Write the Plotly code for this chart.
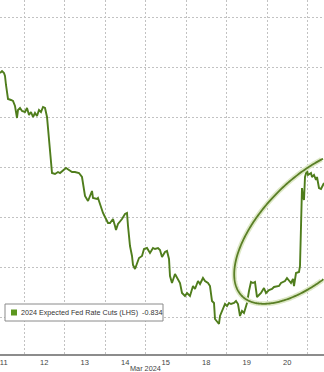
import numpy as np
import plotly.graph_objects as go

# ---- data ----
times = [
    "2024-03-11 09:47", "2024-03-11 10:58", "2024-03-11 12:09", "2024-03-11 12:44", "2024-03-11 13:20",
    "2024-03-11 13:56", "2024-03-11 14:31", "2024-03-11 16:18", "2024-03-11 17:29", "2024-03-11 18:40",
    "2024-03-11 19:51", "2024-03-11 20:27", "2024-03-11 21:38", "2024-03-11 22:49", "2024-03-12 00:36",
    "2024-03-12 01:47", "2024-03-12 02:58", "2024-03-12 04:09", "2024-03-12 05:20", "2024-03-12 06:31",
    "2024-03-12 07:42", "2024-03-12 08:53", "2024-03-12 10:04", "2024-03-12 11:16", "2024-03-12 12:27",
    "2024-03-12 13:38", "2024-03-12 14:49", "2024-03-12 16:00", "2024-03-12 16:36", "2024-03-12 18:22",
    "2024-03-12 20:09", "2024-03-12 21:20", "2024-03-12 22:31", "2024-03-13 00:53", "2024-03-13 02:40",
    "2024-03-13 04:27", "2024-03-13 06:13", "2024-03-13 08:36", "2024-03-13 10:22", "2024-03-13 10:58",
    "2024-03-13 12:09", "2024-03-13 13:56", "2024-03-13 16:18", "2024-03-13 16:53", "2024-03-13 19:16",
    "2024-03-13 19:51", "2024-03-13 21:02", "2024-03-13 22:49", "2024-03-14 00:36", "2024-03-14 01:47",
    "2024-03-14 02:58", "2024-03-14 04:44", "2024-03-14 05:56", "2024-03-14 06:31", "2024-03-14 07:42",
    "2024-03-14 10:04", "2024-03-14 11:51", "2024-03-14 13:02", "2024-03-14 13:38", "2024-03-14 14:49",
    "2024-03-14 16:00", "2024-03-14 16:36", "2024-03-14 17:47", "2024-03-14 18:58", "2024-03-14 20:09",
    "2024-03-14 21:56", "2024-03-14 23:07", "2024-03-15 00:53", "2024-03-15 02:40", "2024-03-15 04:27",
    "2024-03-15 05:38", "2024-03-15 07:24", "2024-03-15 08:36", "2024-03-15 09:47", "2024-03-15 11:33",
    "2024-03-15 12:44", "2024-03-15 13:56", "2024-03-15 14:31", "2024-03-15 15:42", "2024-03-15 17:29",
    "2024-03-15 19:16", "2024-03-15 20:27", "2024-03-15 21:38", "2024-03-15 23:24", "2024-03-18 00:36",
    "2024-03-18 02:22", "2024-03-18 04:09", "2024-03-18 05:20", "2024-03-18 07:07", "2024-03-18 08:18",
    "2024-03-18 10:04", "2024-03-18 11:16", "2024-03-18 13:02", "2024-03-18 14:13", "2024-03-18 15:24",
    "2024-03-18 16:36", "2024-03-18 17:11", "2024-03-18 18:22", "2024-03-18 19:33", "2024-03-18 20:09",
    "2024-03-18 21:20", "2024-03-18 22:31", "2024-03-18 23:07", "2024-03-19 00:18", "2024-03-19 01:29",
    "2024-03-19 02:40", "2024-03-19 04:27", "2024-03-19 05:38", "2024-03-19 06:49", "2024-03-19 08:00",
    "2024-03-19 09:11", "2024-03-19 10:22", "2024-03-19 12:09", "2024-03-19 13:20", "2024-03-19 14:31",
    "2024-03-19 15:42", "2024-03-19 16:53", "2024-03-19 18:04", "2024-03-19 20:27", "2024-03-19 22:13",
    "2024-03-19 23:24", "2024-03-20 01:11", "2024-03-20 02:58", "2024-03-20 04:09", "2024-03-20 07:07",
    "2024-03-20 08:18", "2024-03-20 10:40", "2024-03-20 11:51", "2024-03-20 13:02", "2024-03-20 14:13",
    "2024-03-20 15:24", "2024-03-20 16:00", "2024-03-20 17:11", "2024-03-20 18:58", "2024-03-20 19:33",
    "2024-03-20 20:09", "2024-03-20 20:44", "2024-03-20 21:20", "2024-03-20 21:56", "2024-03-20 22:31",
    "2024-03-20 23:42", "2024-03-21 00:18", "2024-03-21 02:04", "2024-03-21 02:40", "2024-03-21 03:51",
    "2024-03-21 05:02", "2024-03-21 05:38", "2024-03-21 06:49", "2024-03-21 08:00", "2024-03-21 09:11",
    "2024-03-21 09:47",
]
rate_cuts = [
    -0.944, -0.946, -0.944, -0.941, -0.932,
    -0.922, -0.918, -0.917, -0.916, -0.911,
    -0.899, -0.907, -0.909, -0.906, -0.905,
    -0.909, -0.902, -0.905, -0.900, -0.904,
    -0.901, -0.907, -0.905, -0.910, -0.909,
    -0.900, -0.874, -0.852, -0.844, -0.843,
    -0.845, -0.844, -0.846, -0.849, -0.847,
    -0.845, -0.845, -0.844, -0.840, -0.832,
    -0.821, -0.816, -0.826, -0.819, -0.818,
    -0.819, -0.813, -0.804, -0.798, -0.794,
    -0.794, -0.798, -0.791, -0.787, -0.793,
    -0.798, -0.803, -0.804, -0.791, -0.771,
    -0.761, -0.752, -0.748, -0.753, -0.759,
    -0.761, -0.768, -0.769, -0.764, -0.769,
    -0.768, -0.769, -0.767, -0.760, -0.765,
    -0.766, -0.758, -0.741, -0.734, -0.743,
    -0.738, -0.734, -0.724, -0.721, -0.724,
    -0.721, -0.731, -0.728, -0.736, -0.733,
    -0.739, -0.736, -0.734, -0.731, -0.716,
    -0.714, -0.698, -0.696, -0.693, -0.701,
    -0.706, -0.709, -0.713, -0.711, -0.714,
    -0.713, -0.714, -0.716, -0.713, -0.701,
    -0.706, -0.704, -0.714, -0.726, -0.735,
    -0.734, -0.735, -0.720, -0.724, -0.729,
    -0.724, -0.727, -0.728, -0.730, -0.731,
    -0.734, -0.736, -0.739, -0.736, -0.734,
    -0.738, -0.731, -0.744, -0.745, -0.751,
    -0.797, -0.829, -0.820, -0.817, -0.840,
    -0.847, -0.842, -0.844, -0.840, -0.842,
    -0.837, -0.840, -0.829, -0.828, -0.832,
    -0.834,
]
trading_days = ["2024-03-11", "2024-03-12", "2024-03-13", "2024-03-14", "2024-03-15",
                "2024-03-18", "2024-03-19", "2024-03-20", "2024-03-21"]
day_labels = ["11", "12", "13", "14", "15", "18", "19", "20", "21"]
series_name = "2024 Expected Fed Rate Cuts (LHS)"
last_value_label = "-0.834"
y_gridvals = [-1.00, -0.95, -0.90, -0.85, -0.80, -0.75, -0.70]
x_range = ["2024-03-11 09:46:40", "2024-03-21 09:46:40"]
y_range = [-0.663, -1.017]

LINE = "#4f7d1c"
GRID = "#c2c2c2"
FONT = "Liberation Sans"

W, H = 324, 372
MB = 18
PH = H - MB


def pxp(x, y):
    return f"{x / W:.5f},{1 - y / PH:.5f}"


fig = go.Figure()
fig.add_trace(go.Scatter(
    x=times, y=rate_cuts, mode="lines",
    line=dict(color=LINE, width=1.9),
    showlegend=False, hoverinfo="skip",
))

# annotation ellipse (rotated); keep only the part inside the figure
cx, cy, a, b, th = 312.0, 226.0, 99.0, 48.0, np.deg2rad(45)
tt = np.linspace(0, 2 * np.pi, 361)
dx, dy = np.cos(th), -np.sin(th)
nx, ny = np.sin(th), np.cos(th)
ex = cx + a * np.cos(tt) * dx + b * np.sin(tt) * nx
ey = cy + a * np.cos(tt) * dy + b * np.sin(tt) * ny
start = int(np.argmax(ex))
ex, ey = np.roll(ex, -start), np.roll(ey, -start)


def clipped_path(xmax):
    idx = np.where(ex <= xmax)[0]
    seg = range(max(idx.min() - 1, 0), min(idx.max() + 2, len(ex)))
    return "M " + " L ".join(pxp(min(ex[i], xmax), ey[i]) for i in seg)


fig.add_shape(type="path", path=clipped_path(W - 2.6), xref="paper", yref="paper",
              line=dict(color="#dde8c6", width=5), layer="above")
fig.add_shape(type="path", path=clipped_path(W - 1.0), xref="paper", yref="paper",
              line=dict(color="#5a7f26", width=1.8), layer="above")

# legend box
fig.add_shape(type="rect", xref="paper", yref="paper",
              x0=5 / W, x1=163 / W, y0=1 - 321 / PH, y1=1 - 304 / PH,
              fillcolor="white", line=dict(color="#8a8a8a", width=1), layer="above")
fig.add_shape(type="rect", xref="paper", yref="paper",
              x0=11 / W, x1=17 / W, y0=1 - 315.5 / PH, y1=1 - 309.5 / PH,
              fillcolor="#5c971f", line=dict(width=0), layer="above")
fig.add_annotation(
    x=19 / W, y=1 - 312.5 / PH, xref="paper", yref="paper",
    xanchor="left", yanchor="middle", showarrow=False, align="left",
    text=f"{series_name}  {last_value_label}",
    font=dict(family=FONT, size=7.2, color="#333333"),
)

fig.add_annotation(
    x=145 / W, y=-(368.5 - PH) / PH, xref="paper", yref="paper",
    xanchor="center", yanchor="middle", showarrow=False, borderpad=0,
    text="Mar 2024", font=dict(family=FONT, size=7.3, color="#444444"),
)

tick_noon = [d + " 12:00" for d in trading_days]
fig.update_xaxes(
    type="date", range=x_range, automargin=False,
    rangebreaks=[dict(bounds=["sat", "mon"])],
    tickmode="array", tickvals=tick_noon, ticktext=day_labels,
    ticklabeloverflow="allow", ticklabelstandoff=0,
    showgrid=False,
    minor=dict(tickmode="array", tickvals=trading_days[1:],
               showgrid=True, gridcolor=GRID, griddash="2px,2px", gridwidth=1, ticks=""),
    showline=True, linecolor="#8c8c8c", linewidth=1.5,
    ticks="", tickfont=dict(family=FONT, size=7.5, color="#444444"),
    zeroline=False,
)
fig.update_yaxes(
    range=y_range, tickmode="array", tickvals=y_gridvals, automargin=False,
    showticklabels=False, showgrid=True, gridcolor=GRID, griddash="2px,2px", gridwidth=1,
    zeroline=False, showline=False, ticks="",
)
fig.update_layout(
    width=W, height=H,
    margin=dict(l=0, r=0, t=0, b=MB, pad=0, autoexpand=False),
    plot_bgcolor="white", paper_bgcolor="white",
    showlegend=False,
)
fig.write_html("out.html")
